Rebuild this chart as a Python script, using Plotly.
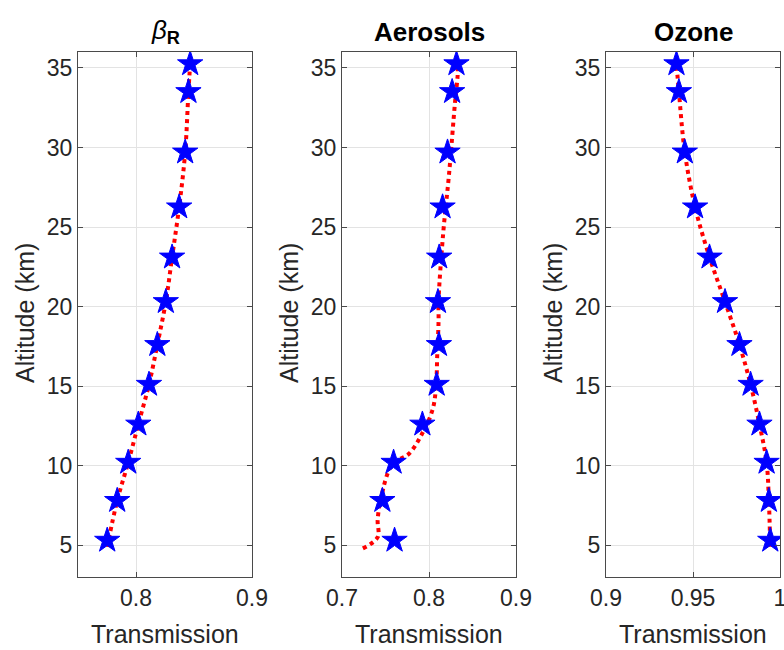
import plotly.graph_objects as go

altitude = [5.3, 7.8, 10.2, 12.6, 15.1, 17.6, 20.3, 23.1, 26.25, 29.7, 33.5, 35.25]

beta_stars = [0.7752, 0.7838, 0.7933, 0.8020, 0.8112, 0.8184, 0.8257, 0.8311, 0.8372, 0.8424, 0.8452, 0.8467]
aero_stars = [0.7604, 0.7464, 0.7593, 0.7924, 0.8088, 0.8114, 0.8103, 0.8117, 0.8156, 0.8213, 0.8266, 0.8316]
ozone_stars = [0.9944, 0.9936, 0.9923, 0.9882, 0.9831, 0.9767, 0.9684, 0.9595, 0.9512, 0.9453, 0.9419, 0.9405]

beta_line_alt = [4.9, 7.8, 10.2, 12.6, 15.1, 17.6, 20.3, 23.1, 26.25, 29.7, 33.5, 35.25]
beta_line = [0.7752, 0.7838, 0.7933, 0.8020, 0.8112, 0.8184, 0.8257, 0.8311, 0.8372, 0.8424, 0.8452, 0.8467]

aero_line_alt = [4.8, 5.5, 6.6, 8.0, 10.1, 10.75, 12.0, 13.5, 14.9, 17.0, 19.1, 20.4, 24.6, 28.3, 32.9, 34.6, 35.3]
aero_line = [0.724, 0.741, 0.741, 0.745, 0.758, 0.777, 0.792, 0.804, 0.808, 0.8095, 0.811, 0.811, 0.8163, 0.823, 0.830, 0.833, 0.833]

ozone_line_alt = [4.9, 7.8, 10.2, 12.6, 15.1, 17.6, 20.3, 23.1, 26.25, 29.7, 33.5, 35.25]
ozone_line = [0.9944, 0.9936, 0.9923, 0.9882, 0.9831, 0.9767, 0.9684, 0.9595, 0.9512, 0.9453, 0.9419, 0.9405]

titles = ["<i>β</i><sub><b>R</b></sub>", "<b>Aerosols</b>", "<b>Ozone</b>"]
x_ranges = [[0.75, 0.9], [0.7, 0.9], [0.9, 1.0]]
x_ticks = [[0.8, 0.9], [0.7, 0.8, 0.9], [0.9, 0.95, 1.0]]
x_ticktext = [["0.8", "0.9"], ["0.7", "0.8", "0.9"], ["0.9", "0.95", "1"]]
y_ticks = [5, 10, 15, 20, 25, 30, 35]
y_title = "Altitude (km)"
x_title = "Transmission"

W, H = 784, 650
ml, mr, mt, mb = 0, 4, 52, 73
pw = W - ml - mr
ph = H - mt - mb
panels_px = [(78, 252), (342, 516), (606, 780)]


def py(ref_y):
    return (H - mb - ref_y) / ph


fig = go.Figure()
stars = [beta_stars, aero_stars, ozone_stars]
lines = [(beta_line_alt, beta_line), (aero_line_alt, aero_line), (ozone_line_alt, ozone_line)]

axcol = "#262626"
linecol = "#4a4a4a"
for i in range(3):
    xa = "x" if i == 0 else f"x{i+1}"
    ya = "y" if i == 0 else f"y{i+1}"
    la, lv = lines[i]
    fig.add_trace(go.Scatter(x=lv, y=la, mode="lines", xaxis=xa, yaxis=ya,
                             line=dict(color="#ff0000", width=4, dash="dot", shape="spline"),
                             showlegend=False))
    fig.add_trace(go.Scatter(x=stars[i], y=altitude, mode="markers", xaxis=xa, yaxis=ya,
                             marker=dict(symbol="star", size=19, color="#0000ff",
                                         line=dict(color="#0000ff", width=1)),
                             showlegend=False))
    x0, x1 = panels_px[i]
    d = [(x0 - ml) / pw, (x1 - ml) / pw]
    xkey = "xaxis" if i == 0 else f"xaxis{i+1}"
    ykey = "yaxis" if i == 0 else f"yaxis{i+1}"
    fig.layout[xkey] = dict(domain=d, range=x_ranges[i], tickvals=x_ticks[i], ticktext=x_ticktext[i],
                            anchor=ya, showline=True, mirror="ticks", linecolor=linecol, linewidth=1,
                            ticks="inside", ticklen=5, tickcolor=linecol, automargin=False,
                            ticklabeloverflow="allow",
                            showgrid=True, gridcolor="#e3e3e3", zeroline=False,
                            tickfont=dict(size=23, color=axcol))
    fig.layout[ykey] = dict(domain=[0, 1], range=[3, 36], tickvals=y_ticks,
                            anchor=xa, showline=True, mirror="ticks", linecolor=linecol, linewidth=1,
                            ticks="inside", ticklen=5, tickcolor=linecol, automargin=False,
                            ticklabeloverflow="allow",
                            showgrid=True, gridcolor="#e3e3e3", zeroline=False,
                            tickfont=dict(size=23, color=axcol))
    fig.add_annotation(text=titles[i], x=(d[0] + d[1]) / 2, y=py(32),
                       xref="paper", yref="paper", xanchor="center", yanchor="middle",
                       showarrow=False, font=dict(size=26, color="#000000"))
    fig.add_annotation(text=y_title, x=(x0 - 53 - ml) / pw, y=py(313),
                       xref="paper", yref="paper", xanchor="center", yanchor="middle",
                       textangle=-90, showarrow=False, font=dict(size=25, color=axcol))
    fig.add_annotation(text=x_title, x=(d[0] + d[1]) / 2, y=py(634),
                       xref="paper", yref="paper", xanchor="center", yanchor="middle",
                       showarrow=False, font=dict(size=25, color=axcol))

fig.update_layout(width=W, height=H, margin=dict(l=ml, r=mr, t=mt, b=mb),
                  paper_bgcolor="white", plot_bgcolor="white",
                  font=dict(family="Liberation Sans, Arial, sans-serif", color=axcol))

fig.write_html("out.html", config={"displayModeBar": False},
               post_script="document.body.style.margin='0';document.body.style.overflow='hidden';")
